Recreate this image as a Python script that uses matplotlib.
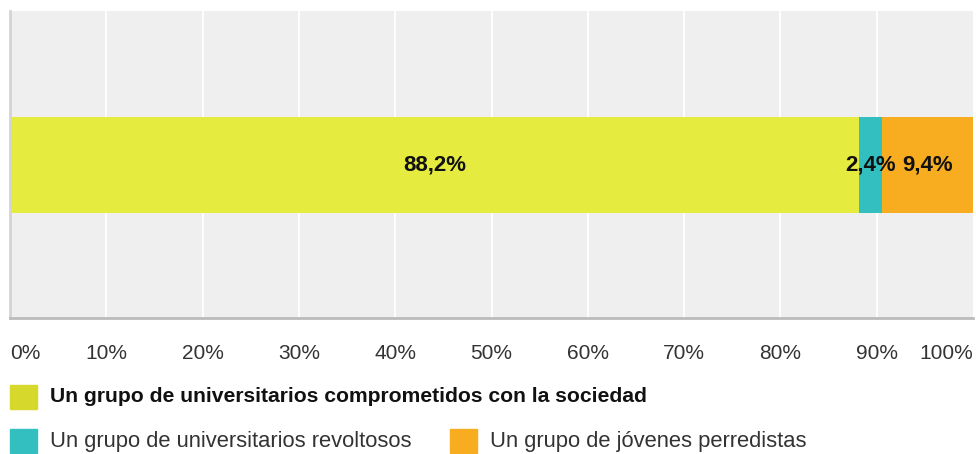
import matplotlib.pyplot as plt
from matplotlib.patches import Rectangle

# data
categories = ["Un grupo de universitarios comprometidos con la sociedad",
              "Un grupo de universitarios revoltosos",
              "Un grupo de jóvenes perredistas"]
values = [88.2, 2.4, 9.4]
labels = ["88,2%", "2,4%", "9,4%"]
bar_colors = ["#e6ec3f", "#33bfc0", "#f7ad1f"]
legend_colors = ["#d6d92c", "#33bfc0", "#f7ad1f"]
ticks = list(range(0, 101, 10))
tick_labels = [str(t) + "%" for t in ticks]

plt.rcParams['font.family'] = ['Liberation Sans', 'DejaVu Sans']

fig = plt.figure(figsize=(9.76, 4.54), dpi=100)
W, H = 976, 454
ax = fig.add_axes([10 / W, 1 - 318 / H, 963 / W, (318 - 11) / H])
ax.set_facecolor("#efefef")
ax.set_xlim(0, 100)
ax.set_ylim(0, 1)

for t in ticks[1:-1]:
    ax.axvline(t, color="white", lw=1.3, zorder=1)

# stacked bar
left = 0
bar_y0 = 1 - (213 - 11) / 307
bar_h = (213 - 117) / 307
for v, c, lab in zip(values, bar_colors, labels):
    ax.barh(bar_y0 + bar_h / 2, v, left=left, height=bar_h, color=c, zorder=2)
    ax.text(left + v / 2, bar_y0 + bar_h / 2, lab, ha="center", va="center",
            fontsize=16, fontweight="bold", color="#111111", zorder=3)
    left += v

for s in ["top", "right"]:
    ax.spines[s].set_visible(False)
ax.spines["left"].set_color("#d4d4d4")
ax.spines["left"].set_linewidth(2)
ax.spines["bottom"].set_color("#bbbbbb")
ax.spines["bottom"].set_linewidth(2)
ax.set_yticks([])
ax.set_xticks(ticks)
ax.set_xticklabels(tick_labels, fontsize=15, color="#333333")
ax.tick_params(axis="x", length=0, pad=19)
tl = ax.get_xticklabels()
tl[0].set_horizontalalignment("left")
tl[-1].set_horizontalalignment("right")

# legend
def legend_item(x, y, color, text, bold=False):
    fig.patches.append(Rectangle((x / W, 1 - (y + 12) / H), 27 / W, 24 / H,
                                 transform=fig.transFigure, color=color,
                                 figure=fig))
    fig.text((x + 40) / W, 1 - y / H, text, fontsize=15.2 if bold else 15.8,
             va="center", ha="left", color="#111111" if bold else "#333333",
             fontweight="bold" if bold else "normal")

legend_item(10, 397, legend_colors[0], categories[0], bold=True)
legend_item(10, 441, legend_colors[1], categories[1])
legend_item(450, 441, legend_colors[2], categories[2])

fig.savefig("out.png", dpi=100)
